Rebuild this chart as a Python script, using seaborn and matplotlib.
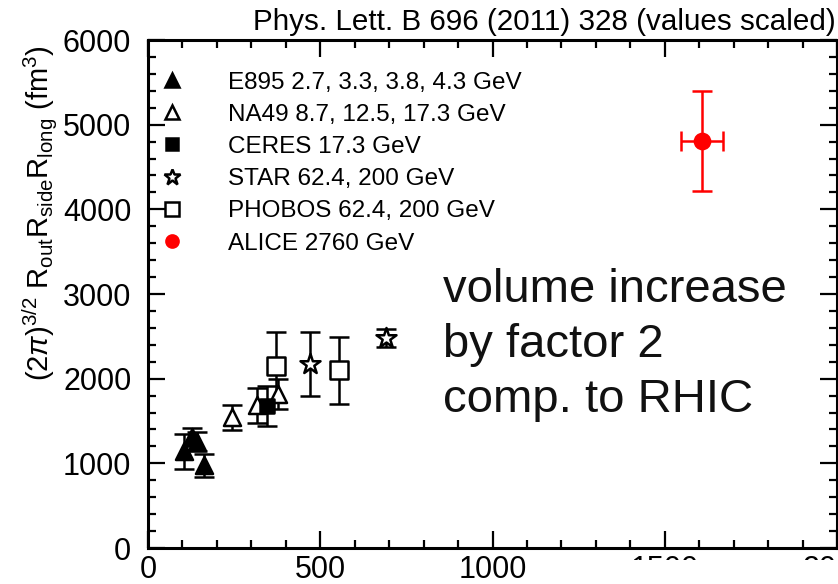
import matplotlib
matplotlib.use("Agg")
import matplotlib.pyplot as plt
from matplotlib.lines import Line2D
from matplotlib.patches import Rectangle
from matplotlib.ticker import MultipleLocator
import seaborn as sns
import pandas as pd

# HBT volume vs. charged-particle multiplicity (dNch/deta)
e895_x = [105, 128, 142, 163]
e895_y = [1140, 1315, 1255, 975]
e895_err = [208, 105, 110, 140]

na49_x = [244, 317, 378]
na49_y = [1542, 1685, 1815]
na49_err = [148, 208, 178]

ceres_x = [346]
ceres_y = [1673]
ceres_err = [237]

star_x = [471, 692]
star_y = [2171, 2479]
star_err = [380, 107]

phobos_x = [372, 555]
phobos_y = [2147, 2100]
phobos_err = [410, 397]

alice_x = [1607]
alice_y = [4804]
alice_err = [593]
alice_xerr = [61]

labels = ["E895 2.7, 3.3, 3.8, 4.3 GeV",
          "NA49 8.7, 12.5, 17.3 GeV",
          "CERES 17.3 GeV",
          "STAR 62.4, 200 GeV",
          "PHOBOS 62.4, 200 GeV",
          "ALICE 2760 GeV"]

title = "Phys. Lett. B 696 (2011) 328 (values scaled)"
note = "volume increase\nby factor 2\ncomp. to RHIC"

sns.set_theme(style="ticks")
plt.rcParams["font.family"] = ["Liberation Sans", "DejaVu Sans"]
plt.rcParams["mathtext.fontset"] = "custom"
plt.rcParams["mathtext.rm"] = "Liberation Sans"
plt.rcParams["mathtext.it"] = "Liberation Sans:italic"
for key in ["text.color", "axes.labelcolor", "xtick.color", "ytick.color",
            "axes.edgecolor"]:
    plt.rcParams[key] = "black"

groups = [
    # x, y, yerr, xerr, marker, face, edge, size
    (e895_x, e895_y, e895_err, None, "^", "black", "black", 150),
    (na49_x, na49_y, na49_err, None, "^", "white", "black", 150),
    (ceres_x, ceres_y, ceres_err, None, "s", "black", "black", 110),
    (star_x, star_y, star_err, None, "*", "white", "black", 230),
    (phobos_x, phobos_y, phobos_err, None, "s", "white", "black", 150),
    (alice_x, alice_y, alice_err, alice_xerr, "o", "#ff0000", "#ff0000", 120),
]

fig = plt.figure(figsize=(8.38, 5.84), dpi=100)
ax = fig.add_axes([148 / 838, 1 - 548 / 584, 689 / 838, 508 / 584])

for xs, ys, ye, xe, m, fc, ec, s in groups:
    df = pd.DataFrame({"x": xs, "y": ys})
    ecol = "#ff0000" if fc == "#ff0000" else "black"
    ax.errorbar(xs, ys, yerr=ye, xerr=xe, fmt="none", ecolor=ecol,
                elinewidth=1.8, capsize=7, capthick=1.8, zorder=2)
    sns.scatterplot(data=df, x="x", y="y", marker=m, s=s, color=fc,
                    edgecolor=ec, linewidth=1.8, ax=ax, zorder=3, legend=False)

ax.set_xlim(0, 2000)
ax.set_ylim(0, 6000)
ax.xaxis.set_major_locator(MultipleLocator(500))
ax.xaxis.set_minor_locator(MultipleLocator(100))
ax.yaxis.set_major_locator(MultipleLocator(1000))
ax.yaxis.set_minor_locator(MultipleLocator(200))
ax.tick_params(which="both", direction="in", top=True, right=True,
               color="black", width=1.6)
ax.tick_params(which="major", length=12, labelsize=22)
ax.tick_params(axis="x", which="major", pad=5)
ax.tick_params(axis="y", which="major", pad=12)
ax.tick_params(which="minor", length=6)
for sp in ax.spines.values():
    sp.set_linewidth(2.2)
    sp.set_color("black")
    sp.set_visible(True)
ax.set_xlabel("")
ax.set_ylabel(r"$(2\pi)^{3/2}\ \mathrm{R_{out}R_{side}R_{long}\ (fm^3)}$",
              fontsize=21)
ax.yaxis.set_label_coords(-0.128, 0.660)

handles = []
for xs, ys, ye, xe, m, fc, ec, s in groups:
    handles.append(Line2D([], [], linestyle="none", marker=m,
                          markerfacecolor=fc, markeredgecolor=ec,
                          markeredgewidth=1.8, markersize=(s ** 0.5) * 0.8))
ax.legend(handles, labels, loc="upper left", bbox_to_anchor=(0.0174, 0.938),
          frameon=False, fontsize=17.5, handletextpad=1.8, labelspacing=0.42,
          borderaxespad=0, borderpad=0, handlelength=1.0)

fig.text(443 / 838, 1 - 345 / 584, note, fontsize=34, va="center",
         ha="left", linespacing=1.33, color="#111111")

fig.text(836 / 838, 1 - 30 / 584, title, fontsize=21.3, ha="right",
         va="baseline")

# blank strip over the lower right tick labels
fig.patches.append(Rectangle((615 / 838, 0), 1, 24 / 584,
                             transform=fig.transFigure, facecolor="white",
                             edgecolor="none", zorder=10))

fig.savefig("out.png", dpi=100, facecolor="white")
